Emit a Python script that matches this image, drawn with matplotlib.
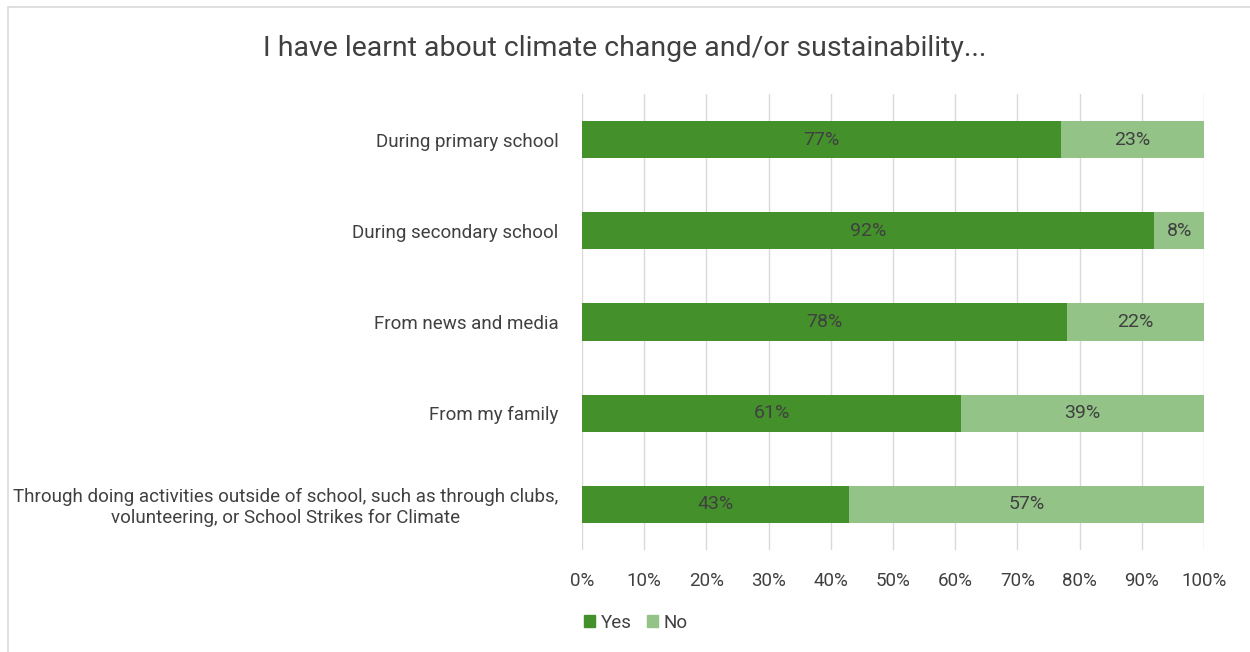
import matplotlib.pyplot as plt
from matplotlib.patches import Rectangle, Patch

categories = [
    "During primary school",
    "During secondary school",
    "From news and media",
    "From my family",
    "Through doing activities outside of school, such as through clubs,\nvolunteering, or School Strikes for Climate",
]
yes_pct = [77, 92, 78, 61, 43]
no_pct = [23, 8, 22, 39, 57]
x_ticks = list(range(0, 101, 10))

YES_COLOR = "#44912b"
NO_COLOR = "#93c386"
TEXT = "#404040"

plt.rcParams["font.family"] = ["Roboto", "DejaVu Sans"]

fig = plt.figure(figsize=(12.5, 6.52), dpi=100)
fig.patches.append(Rectangle((8 / 1250, -0.01), 1.2, 1 - 7 / 652 + 0.01,
                             transform=fig.transFigure, fill=False,
                             edgecolor="#d9d9d9", linewidth=1.2))

ax = fig.add_axes([582 / 1250, 1 - 550 / 652, 622 / 1250, 456 / 652])
y = list(range(len(categories)))
ax.barh(y, yes_pct, height=0.41, color=YES_COLOR, zorder=3)
ax.barh(y, no_pct, left=yes_pct, height=0.41, color=NO_COLOR, zorder=3)

for yi, a, b in zip(y, yes_pct, no_pct):
    ax.text(a / 2, yi, f"{a}%", ha="center", va="center", fontsize=14, color=TEXT, zorder=4)
    ax.text(a + b / 2, yi, f"{b}%", ha="center", va="center", fontsize=14, color=TEXT, zorder=4)

ax.set_xlim(0, 100)
ax.set_ylim(len(categories) - 0.5, -0.5)
ax.set_xticks(x_ticks)
ax.set_xticklabels([f"{t}%" for t in x_ticks], fontsize=13.5, color=TEXT)
ax.set_yticks(y)
ax.set_yticklabels(categories, fontsize=13.5, color=TEXT, multialignment="center")
ax.tick_params(length=0, pad=17, axis="y")
ax.tick_params(length=0, pad=16, axis="x")
ax.xaxis.grid(True, color="#d9d9d9", linewidth=1, zorder=0)
for s in ax.spines.values():
    s.set_visible(False)

fig.text(0.5, 1 - 48 / 652, "I have learnt about climate change and/or sustainability...",
         ha="center", va="center", fontsize=20.5, color=TEXT)

fig.legend(handles=[Patch(color=YES_COLOR, label="Yes"), Patch(color=NO_COLOR, label="No")],
           loc="center", bbox_to_anchor=(636 / 1250, 1 - 623 / 652), ncol=2, frameon=False,
           fontsize=13.5, handlelength=0.6, handleheight=0.6, handletextpad=0.3,
           columnspacing=0.8, labelcolor=TEXT)

fig.savefig("out.png", dpi=100)
